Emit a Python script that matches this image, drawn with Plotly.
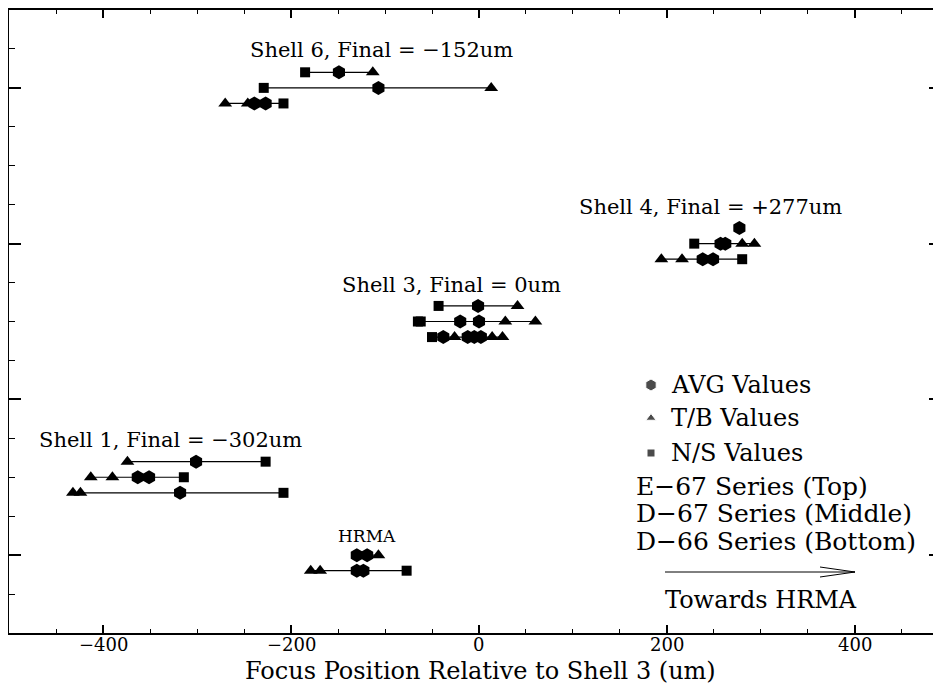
import plotly.graph_objects as go

# ---------------- data (focus positions, um) ----------------
# each shell: three rows (E-67 top, D-67 middle, D-66 bottom)
shell6_rows = [14.4, 14.0, 13.6]
shell6_avg = [[-149], [-107], [-239, -227]]
shell6_tb = [[-113], [13], [-270, -246]]
shell6_ns = [[-185], [-229], [-208]]

shell4_rows = [10.4, 10.0, 9.6]
shell4_avg = [[277], [257, 262], [238, 249]]
shell4_tb = [[], [280, 293], [194, 216]]
shell4_ns = [[], [229], [280]]

shell3_rows = [8.4, 8.0, 7.6]
shell3_avg = [[-1], [-20, 0], [-38, -12, -5, 2]]
shell3_tb = [[41], [28, 60], [-26, 14, 25]]
shell3_ns = [[-43], [-65, -62], [-50, -8]]

shell1_rows = [4.4, 4.0, 3.6]
shell1_avg = [[-301], [-363, -351], [-318]]
shell1_tb = [[-374], [-413, -390], [-432, -424]]
shell1_ns = [[-227], [-314], [-208]]

hrma_rows = [2.0, 1.6]
hrma_avg = [[-130, -119], [-130, -123]]
hrma_tb = [[-107], [-179, -169]]
hrma_ns = [[], [-77]]

x_ticks = [-400, -200, 0, 200, 400]
x_tick_text = ["\u2212400", "\u2212200", "0", "200", "400"]
labels = {
    "shell6": "Shell 6, Final = \u2212152um",
    "shell4": "Shell 4, Final = +277um",
    "shell3": "Shell 3, Final = 0um",
    "shell1": "Shell 1, Final = \u2212302um",
    "hrma": "HRMA",
}

FONT = "DejaVu Serif"
OFF = 8  # page body margin
W, H = 941 - OFF, 686 - OFF
ML, MR, MT, MB = 1, 0, 2, 53
PW, PH = W - ML - MR, H - MT - MB

def px(x):  # page pixel -> paper
    return (x - OFF - ML) / PW

def py(y):
    return (H + OFF - MB - y) / PH

fig = go.Figure()

groups = [
    (shell6_rows, shell6_avg, shell6_tb, shell6_ns),
    (shell4_rows, shell4_avg, shell4_tb, shell4_ns),
    (shell3_rows, shell3_avg, shell3_tb, shell3_ns),
    (shell1_rows, shell1_avg, shell1_tb, shell1_ns),
    (hrma_rows, hrma_avg, hrma_tb, hrma_ns),
]

for rows, avg, tb, ns in groups:
    for i, yv in enumerate(rows):
        allx = avg[i] + tb[i] + ns[i]
        if len(allx) > 1:
            fig.add_trace(go.Scatter(x=[min(allx), max(allx)], y=[yv, yv], mode="lines",
                                     line=dict(color="black", width=1.2), showlegend=False,
                                     hoverinfo="skip"))
        if ns[i]:
            fig.add_trace(go.Scatter(x=ns[i], y=[yv] * len(ns[i]), mode="markers",
                                     marker=dict(symbol="square", size=10, color="black"),
                                     showlegend=False))
        if tb[i]:
            fig.add_trace(go.Scatter(x=tb[i], y=[yv] * len(tb[i]), mode="markers",
                                     marker=dict(symbol="triangle-up", size=12, color="black"),
                                     showlegend=False))
        if avg[i]:
            fig.add_trace(go.Scatter(x=avg[i], y=[yv] * len(avg[i]), mode="markers",
                                     marker=dict(symbol="hexagon", size=14, color="black"),
                                     showlegend=False))

annotations = []
def text(t, x, y, size=21, xanchor="center", yanchor="middle"):
    annotations.append(dict(text=t, x=px(x), y=py(y), xref="paper", yref="paper",
                            showarrow=False, xanchor=xanchor, yanchor=yanchor, borderpad=0,
                            font=dict(family=FONT, size=size, color="black")))

text(labels["shell6"], 381, 50)
text(labels["shell4"], 710, 207)
text(labels["shell3"], 451, 285)
text(labels["shell1"], 170, 440)
text(labels["hrma"], 367, 536, size=17)

# legend block
text("AVG Values", 670, 385, size=24, xanchor="left")
text("T/B Values", 670, 418, size=24, xanchor="left")
text("N/S Values", 670, 453, size=24, xanchor="left")
text("E\u221267 Series (Top)", 635, 486, size=25, xanchor="left")
text("D\u221267 Series (Middle)", 635, 513, size=25, xanchor="left")
text("D\u221266 Series (Bottom)", 635, 541, size=25, xanchor="left")
text("Towards HRMA", 664, 600, size=24, xanchor="left")
# axis title
text("Focus Position Relative to Shell 3 (um)", 480, 686, size=24, yanchor="bottom")

# x tick labels (placed at tick values on the x axis)
for v, t in zip(x_ticks, x_tick_text):
    annotations.append(dict(text=t, x=v, xref="x", y=py(633), yref="paper", showarrow=False,
                            xanchor="center", yanchor="top", borderpad=0,
                            font=dict(family=FONT, size=18, color="black")))

shapes = []
def line(x0, y0, x1, y1, w=1):
    shapes.append(dict(type="line", xref="paper", yref="paper", x0=px(x0), y0=py(y0),
                       x1=px(x1), y1=py(y1), line=dict(color="black", width=w)))

line(665, 572, 855, 572)
line(820, 567, 855, 572)
line(820, 577, 855, 572)

# legend symbols on an overlay paper-like axis
legend_syms = [("hexagon", 385, 12), ("triangle-up", 418, 9), ("square", 453, 8)]
fig.add_trace(go.Scatter(
    x=[px(651)] * 3, y=[py(s[1]) for s in legend_syms], xaxis="x2", yaxis="y2", mode="markers",
    marker=dict(symbol=[s[0] for s in legend_syms], size=[s[2] for s in legend_syms], color="black"),
    showlegend=False, hoverinfo="skip"))

fig.update_layout(
    width=W, height=H,
    margin=dict(l=ML, r=MR, t=MT, b=MB, autoexpand=False),
    paper_bgcolor="white", plot_bgcolor="white",
    showlegend=False,
    annotations=annotations, shapes=shapes,
    xaxis=dict(range=[-500, 491.5], tickvals=x_ticks, ticks="inside", ticklen=8, tickwidth=1.5,
               tickcolor="black", showline=True, linecolor="black", linewidth=2, mirror="allticks",
               showgrid=False, zeroline=False, automargin=False, showticklabels=False,
               minor=dict(dtick=50, tick0=0, ticks="inside", ticklen=4, tickwidth=1.2, tickcolor="black")),
    yaxis=dict(range=[0, 16], tickvals=[2, 6, 10, 14], ticks="inside", ticklen=12, tickwidth=1.5,
               tickcolor="black", showline=True, linecolor="black", linewidth=2, mirror="allticks",
               showticklabels=False, showgrid=False, zeroline=False, automargin=False,
               minor=dict(dtick=1, tick0=0, ticks="inside", ticklen=6, tickwidth=1.2, tickcolor="black")),
    xaxis2=dict(range=[0, 1], overlaying="x", visible=False),
    yaxis2=dict(range=[0, 1], overlaying="y", visible=False),
)

fig.write_html("out.html")
